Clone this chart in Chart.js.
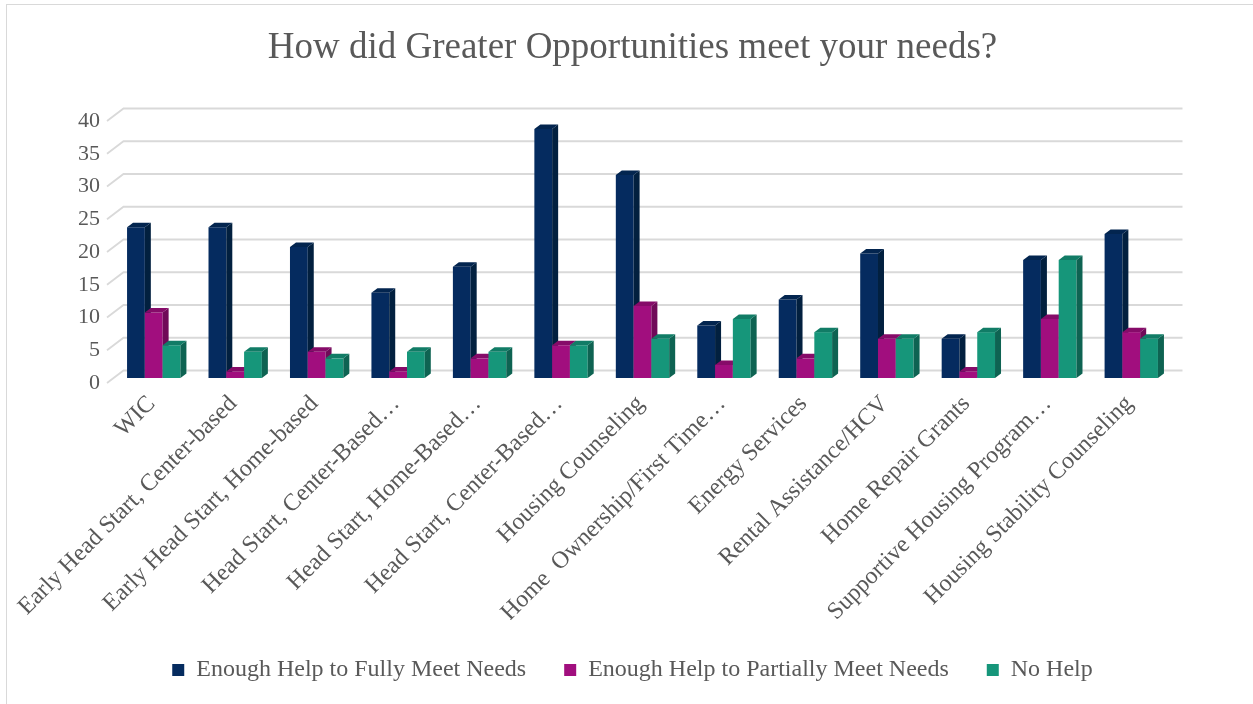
<!DOCTYPE html>
<html>
<head>
<meta charset="utf-8">
<script src="https://cdn.jsdelivr.net/npm/chart.js@4.4.1/dist/chart.umd.min.js"></script>
<style>
  html, body { margin: 0; padding: 0; background: #ffffff; overflow: hidden; width: 1253px; height: 704px; }
  #frame { position: absolute; left: 6px; top: 4px; width: 1300px; height: 760px; border: 1px solid #d9d9d9; box-sizing: border-box; }
  #wrap { position: absolute; left: 0; top: 0; width: 1253px; height: 704px; }
</style>
</head>
<body>
<div id="frame"></div>
<div id="wrap"><canvas id="c" width="1253" height="704"></canvas></div>
<script>
const categories = [
  "WIC",
  "Early Head Start, Center-based",
  "Early Head Start, Home-based",
  "Head Start, Center-Based…",
  "Head Start, Home-Based…",
  "Head Start, Center-Based…",
  "Housing Counseling",
  "Home  Ownership/First Time…",
  "Energy Services",
  "Rental Assistance/HCV",
  "Home Repair Grants",
  "Supportive Housing Program…",
  "Housing Stability Counseling"
];
const seriesNames = [
  "Enough Help to Fully Meet Needs",
  "Enough Help to Partially Meet Needs",
  "No Help"
];
const fullyMeet = [23, 23, 20, 13, 17, 38, 31, 8, 12, 19, 6, 18, 22];
const partiallyMeet = [10, 1, 4, 1, 3, 5, 11, 2, 3, 6, 1, 9, 7];
const noHelp = [5, 4, 3, 4, 4, 5, 6, 9, 7, 6, 7, 18, 6];
const yMin = 0, yMax = 40, yStep = 5;
const chartTitle = "How did Greater Opportunities meet your needs?";

const FONT = "'Liberation Serif', 'Times New Roman', serif";
const TEXT = "#595959";
const frontColors = ["#052b5f", "#a10e7e", "#16967a"];
const faceColors = [
  { side: "#02203f", top: "#03254f" },
  { side: "#700a58", top: "#860b69" },
  { side: "#0e6352", top: "#117c66" }
];
const WALL = { dx: 16.5, dy: 12.5 };
const SHIFT = { dx: 6, dy: -5 };
const DEPTH = { dx: 6, dy: 4.5 };

const bars3d = {
  id: "bars3d",
  beforeDatasetsDraw(chart) {
    const { ctx, chartArea: a, scales: { y } } = chart;
    ctx.save();
    ctx.strokeStyle = "#d9d9d9";
    ctx.lineWidth = 1.8;
    y.ticks.forEach(t => {
      const py = y.getPixelForValue(t.value);
      ctx.beginPath();
      ctx.moveTo(a.left, py);
      ctx.lineTo(a.left + WALL.dx, py - WALL.dy);
      ctx.lineTo(a.right + WALL.dx, py - WALL.dy);
      ctx.stroke();
    });
    ctx.restore();
  },
  beforeDatasetDraw() { return false; },
  afterDatasetsDraw(chart) {
    const ctx = chart.ctx;
    ctx.save();
    ctx.translate(SHIFT.dx, SHIFT.dy);
    chart.data.datasets.forEach((ds, i) => {
      const meta = chart.getDatasetMeta(i);
      const c = faceColors[i];
      meta.data.forEach(bar => {
        const { x, y, base, width } = bar.getProps(["x", "y", "base", "width"], true);
        const x1 = x - width / 2, x2 = x + width / 2;
        const top = Math.min(y, base), bot = Math.max(y, base);
        bar.draw(ctx);
        ctx.fillStyle = c.side;
        ctx.beginPath();
        ctx.moveTo(x2, top);
        ctx.lineTo(x2 + DEPTH.dx, top - DEPTH.dy);
        ctx.lineTo(x2 + DEPTH.dx, bot - DEPTH.dy);
        ctx.lineTo(x2, bot);
        ctx.closePath();
        ctx.fill();
        ctx.fillStyle = c.top;
        ctx.beginPath();
        ctx.moveTo(x1, top);
        ctx.lineTo(x1 + DEPTH.dx, top - DEPTH.dy);
        ctx.lineTo(x2 + DEPTH.dx, top - DEPTH.dy);
        ctx.lineTo(x2, top);
        ctx.closePath();
        ctx.fill();
      });
    });
    ctx.restore();
  }
};

const seriesValues = [fullyMeet, partiallyMeet, noHelp];

new Chart(document.getElementById("c"), {
  type: "bar",
  data: {
    labels: categories,
    datasets: seriesNames.map((name, i) => ({
      label: name,
      data: seriesValues[i],
      backgroundColor: frontColors[i],
      borderWidth: 0,
      barPercentage: 1.0,
      categoryPercentage: 0.655,
      clip: false
    }))
  },
  options: {
    responsive: false,
    animation: false,
    devicePixelRatio: 1,
    layout: { padding: { left: 12, right: 0, top: 0, bottom: 12 } },
    plugins: {
      title: {
        display: true,
        text: chartTitle,
        color: TEXT,
        font: { family: FONT, size: 37, weight: "normal", lineHeight: 1.2 },
        padding: { top: 26, bottom: 50.6 }
      },
      legend: {
        position: "bottom",
        labels: {
          color: TEXT,
          font: { family: FONT, size: 24 },
          boxWidth: 12,
          boxHeight: 12,
          padding: 38
        }
      },
      tooltip: { enabled: false }
    },
    scales: {
      x: {
        grid: { display: false, drawTicks: false },
        border: { display: false },
        ticks: {
          color: TEXT,
          font: { family: FONT, size: 24 },
          minRotation: 45,
          maxRotation: 45,
          autoSkip: false,
          padding: 7,
          labelOffset: 4
        },
        afterFit(s) { s.height = 237; }
      },
      y: {
        min: yMin,
        max: yMax,
        grid: { display: false, drawTicks: false },
        border: { display: false },
        ticks: {
          stepSize: yStep,
          color: TEXT,
          font: { family: FONT, size: 22 },
          padding: 7
        },
        afterFit(s) { s.width = 95; }
      },
      yr: {
        position: "right",
        display: true,
        grid: { display: false, drawTicks: false },
        border: { display: false },
        ticks: { display: false },
        afterFit(s) { s.width = 87; }
      }
    }
  },
  plugins: [bars3d]
});
</script>
</body>
</html>
